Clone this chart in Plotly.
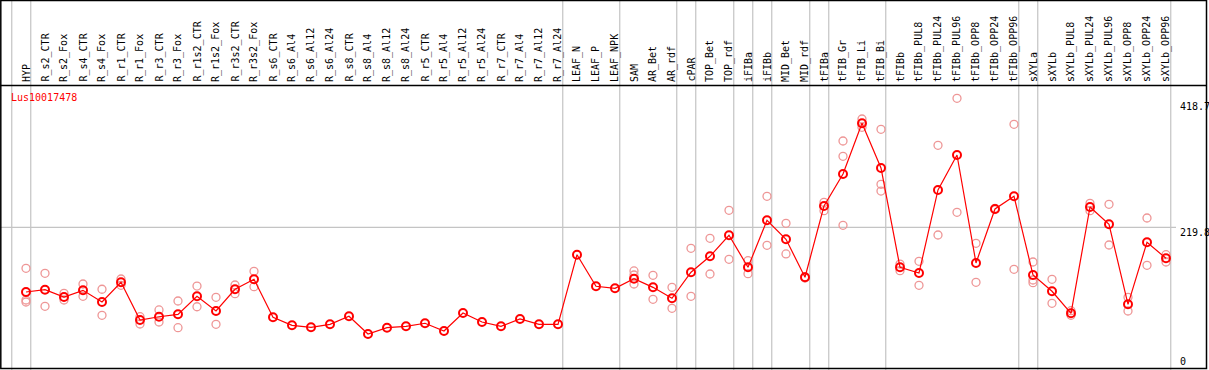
import plotly.graph_objects as go

categories = ["HYP", "R_s2_CTR", "R_s2_Fox", "R_s4_CTR", "R_s4_Fox", "R_r1_CTR", "R_r1_Fox",
              "R_r3_CTR", "R_r3_Fox", "R_r1s2_CTR", "R_r1s2_Fox", "R_r3s2_CTR", "R_r3s2_Fox",
              "R_s6_CTR", "R_s6_Al4", "R_s6_Al12", "R_s6_Al24", "R_s8_CTR", "R_s8_Al4", "R_s8_Al12",
              "R_s8_Al24", "R_r5_CTR", "R_r5_Al4", "R_r5_Al12", "R_r5_Al24", "R_r7_CTR", "R_r7_Al4",
              "R_r7_Al12", "R_r7_Al24", "LEAF_N", "LEAF_P", "LEAF_NPK", "SAM", "AR_Bet", "AR_rdf",
              "cPAR", "TOP_Bet", "TOP_rdf", "iFIBa", "iFIBb", "MID_Bet", "MID_rdf", "tFIBa",
              "tFIB_Gr", "tFIB_Li", "tFIB_Bi", "tFIBb", "tFIBb_PUL8", "tFIBb_PUL24", "tFIBb_PUL96",
              "tFIBb_OPP8", "tFIBb_OPP24", "tFIBb_OPP96", "sXYLa", "sXYLb", "sXYLb_PUL8",
              "sXYLb_PUL24", "sXYLb_PUL96", "sXYLb_OPP8", "sXYLb_OPP24", "sXYLb_OPP96"]

mean_values = [120.2, 123.7, 112.5, 122.8, 104.8, 135.1, 77.1, 82.1, 85.8, 113.6, 90.9, 124.4, 139.8,
               81.2, 68.9, 65.8, 70.4, 82.8, 55.5, 65.2, 67.3, 72.0, 60.1, 87.8, 74.0, 67.3, 78.6,
               70.4, 70.4, 177.7, 129.0, 125.9, 140.7, 127.4, 110.5, 150.6, 175.2, 207.6, 158.3,
               230.7, 201.4, 142.9, 252.7, 302.0, 380.2, 311.3, 158.3, 149.5, 277.4, 331.3, 164.9,
               248.1, 267.7, 146.4, 121.3, 87.4, 251.2, 224.5, 101.2, 196.8, 172.1]

replicates = [
    [156.7, 107.9, 104.8], [149.0, 98.2], [118.2, 107.9], [132.5, 113.6], [124.4, 84.3],
    [140.2, 130.5], [82.1, 70.9], [92.5, 74.0], [106.3, 65.2], [129.4, 97.5], [112.0, 70.4],
    [131.0, 117.6], [152.1, 128.4],
    [], [], [], [], [], [], [], [], [], [], [], [], [], [], [], [],
    [], [], [],
    [152.6, 146.4, 132.5], [145.9, 108.9], [127.4, 95.1], [187.5, 113.6], [202.9, 147.9],
    [246.1, 170.6], [168.4, 148.4], [267.7, 192.2], [226.1, 178.8], [143.8, 141.8],
    [258.4, 245.5], [352.9, 329.3, 223.0], [386.8, 374.0], [370.9, 286.2, 275.8],
    [163.3, 153.0], [167.5, 130.5], [346.3, 208.0], [418.7, 243.0], [195.2, 135.1],
    [248.9, 247.3], [378.6, 155.2], [166.4, 138.7, 134.5], [139.8, 102.8], [91.4, 84.3],
    [256.9, 245.5], [255.3, 192.6], [112.0, 90.9], [234.2, 161.3], [177.7, 166.4],
]

separators_after = [-1, 0, 28, 31, 34, 35, 37, 38, 39, 41, 42, 45, 52, 53, 60]
y_ticks = [0, 219.8, 418.7]
title = "Lus10017478"

W, H = 1209, 370
X0, DX = 26.0, 19.0          # pixel of first category, spacing
YSCALE = 1.541               # value per pixel
YMAX = H * YSCALE

def vy(py):
    return (H - py) * YSCALE

rep_x, rep_y = [], []
for i, reps in enumerate(replicates):
    for v in reps:
        rep_x.append(i)
        rep_y.append(v)

xs = list(range(len(categories)))
fig = go.Figure()
fig.add_trace(go.Scatter(x=rep_x, y=rep_y, mode="markers",
                         marker=dict(symbol="circle-open", size=8, color="rgb(238,150,150)",
                                     line=dict(width=1.3)),
                         hoverinfo="skip", showlegend=False))
fig.add_trace(go.Scatter(x=xs, y=mean_values, mode="lines+markers",
                         line=dict(color="#ff0000", width=1.2),
                         marker=dict(symbol="circle-open", size=8, color="#ff0000",
                                     line=dict(width=2)),
                         text=categories, showlegend=False))

shapes = []
grey = "#c4c4c4"
for s in separators_after:
    xv = s + 0.25
    shapes.append(dict(type="line", xref="x", yref="paper", x0=xv, x1=xv, y0=0, y1=1,
                       line=dict(color=grey, width=1.2), layer="below"))
# horizontal grid at middle tick
shapes.append(dict(type="line", xref="paper", yref="y", x0=0, x1=1176 / W,
                   y0=y_ticks[1], y1=y_ticks[1], line=dict(color=grey, width=1.2), layer="below"))
# header separator
shapes.append(dict(type="line", xref="paper", yref="paper", x0=0, x1=1207 / W,
                   y0=1 - 85.5 / H, y1=1 - 85.5 / H, line=dict(color="black", width=1.5)))
# outer frame
shapes.append(dict(type="rect", xref="paper", yref="paper", x0=0.8 / W, x1=1206.5 / W,
                   y0=1 - 368.6 / H, y1=1 - 0.5 / H, line=dict(color="black", width=1.5)))

annotations = []
for i, c in enumerate(categories):
    annotations.append(dict(x=i, y=vy(84), xref="x", yref="y", text=c, showarrow=False,
                            textangle=-90, xanchor="center", yanchor="bottom",
                            font=dict(family="DejaVu Sans Mono", size=10, color="black")))
annotations.append(dict(x=9 / W, y=vy(97.5), xref="paper", yref="y", text=title,
                        showarrow=False, xanchor="left", yanchor="middle",
                        font=dict(family="DejaVu Sans Mono", size=10, color="#ff0000")))
tick_py = {0: 361.7, 219.8: 232.7, 418.7: 106.7}
for t in y_ticks:
    annotations.append(dict(x=1178 / W, y=vy(tick_py[t]), xref="paper", yref="y",
                            text=("%g" % t), showarrow=False, xanchor="left", yanchor="middle",
                            font=dict(family="DejaVu Sans Mono", size=10, color="black")))

fig.update_layout(
    width=W, height=H, margin=dict(l=0, r=0, t=0, b=0),
    paper_bgcolor="white", plot_bgcolor="white",
    xaxis=dict(range=[-X0 / DX, (W - X0) / DX], visible=False, fixedrange=True),
    yaxis=dict(range=[0, YMAX], visible=False, fixedrange=True),
    shapes=shapes, annotations=annotations, showlegend=False,
)
fig.write_html("out.html", config={"displayModeBar": False},
               post_script="document.body.style.margin='0';document.body.style.overflow='hidden';")
